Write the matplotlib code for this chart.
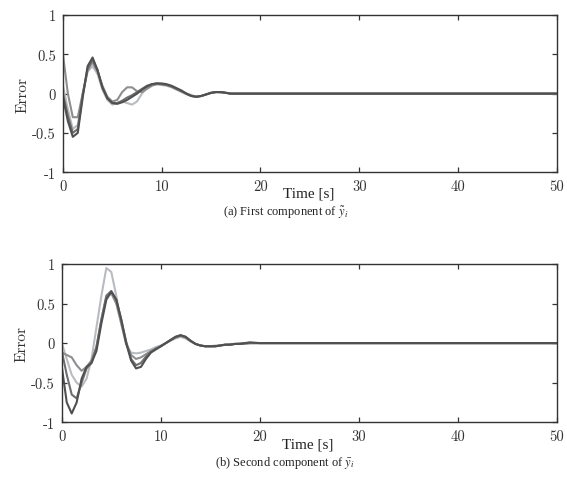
import matplotlib
matplotlib.use("Agg")
import matplotlib.pyplot as plt

# time samples (s): dense in the transient, sparse once everything is settled
time = [0.0, 0.5, 1.0, 1.5, 2.0, 2.5, 3.0, 3.5, 4.0, 4.5, 5.0, 5.5, 6.0, 6.5,
        7.0, 7.5, 8.0, 8.5, 9.0, 9.5, 10.0, 10.5, 11.0, 11.5, 12.0, 12.5, 13.0,
        13.5, 14.0, 14.5, 15.0, 15.5, 16.0, 16.5, 17.0, 17.5, 18.0, 19.0, 20.0,
        30.0, 50.0]

# (a) first component of the error, four runs
first_a = [-0.05, -0.35, -0.55, -0.50, -0.05, 0.35, 0.46, 0.30, 0.08, -0.06,
           -0.12, -0.13, -0.11, -0.08, -0.04, 0.00, 0.05, 0.09, 0.12, 0.13,
           0.13, 0.12, 0.10, 0.07, 0.04, 0.00, -0.03, -0.04, -0.03, -0.01,
           0.01, 0.02, 0.02, 0.01, 0.00, 0.00, 0.00, 0.00, 0.00, 0.00, 0.00]
first_b = [0.50, 0.00, -0.30, -0.30, 0.00, 0.30, 0.40, 0.28, 0.10, -0.04,
           -0.10, -0.08, 0.02, 0.08, 0.08, 0.03, 0.02, 0.06, 0.10, 0.12,
           0.12, 0.11, 0.09, 0.06, 0.03, 0.00, -0.02, -0.04, -0.03, -0.01,
           0.01, 0.02, 0.02, 0.01, 0.00, 0.00, 0.00, 0.00, 0.00, 0.00, 0.00]
first_c = [0.10, -0.20, -0.45, -0.40, 0.00, 0.28, 0.35, 0.25, 0.05, -0.08,
           -0.14, -0.12, -0.10, -0.12, -0.14, -0.10, 0.00, 0.07, 0.11, 0.12,
           0.11, 0.10, 0.08, 0.05, 0.02, -0.01, -0.03, -0.04, -0.03, -0.01,
           0.01, 0.02, 0.01, 0.01, 0.00, 0.00, 0.00, 0.00, 0.00, 0.00, 0.00]
first_d = [0.00, -0.28, -0.50, -0.45, -0.02, 0.32, 0.43, 0.30, 0.07, -0.06,
           -0.12, -0.12, -0.09, -0.05, -0.02, 0.02, 0.06, 0.10, 0.12, 0.13,
           0.12, 0.11, 0.09, 0.06, 0.03, 0.00, -0.03, -0.04, -0.03, -0.01,
           0.01, 0.02, 0.02, 0.01, 0.00, 0.00, 0.00, 0.00, 0.00, 0.00, 0.00]

# (b) second component of the error, four runs
second_a = [-0.30, -0.75, -0.89, -0.75, -0.45, -0.30, -0.25, -0.10, 0.25, 0.55,
            0.65, 0.55, 0.30, 0.00, -0.22, -0.32, -0.30, -0.20, -0.12, -0.08,
            -0.04, 0.00, 0.04, 0.08, 0.10, 0.08, 0.03, -0.01, -0.03, -0.04,
            -0.04, -0.04, -0.03, -0.02, -0.02, -0.01, -0.01, 0.01, 0.00, 0.00, 0.00]
second_b = [-0.12, -0.15, -0.18, -0.28, -0.35, -0.30, -0.22, -0.05, 0.30, 0.58,
            0.63, 0.50, 0.25, 0.00, -0.15, -0.20, -0.18, -0.14, -0.10, -0.07,
            -0.04, 0.00, 0.04, 0.07, 0.09, 0.07, 0.03, -0.01, -0.03, -0.04,
            -0.04, -0.04, -0.03, -0.02, -0.02, -0.01, -0.01, 0.00, 0.00, 0.00, 0.00]
second_c = [0.00, -0.20, -0.40, -0.50, -0.55, -0.45, -0.20, 0.20, 0.60, 0.95,
            0.90, 0.60, 0.25, -0.02, -0.12, -0.13, -0.12, -0.10, -0.08, -0.05,
            -0.03, 0.00, 0.03, 0.06, 0.08, 0.06, 0.02, -0.01, -0.03, -0.04,
            -0.04, -0.03, -0.03, -0.02, -0.01, -0.01, 0.00, 0.00, 0.00, 0.00, 0.00]
second_d = [-0.10, -0.40, -0.65, -0.70, -0.50, -0.32, -0.25, -0.05, 0.30, 0.60,
            0.66, 0.55, 0.30, 0.02, -0.20, -0.28, -0.25, -0.17, -0.11, -0.07,
            -0.04, 0.00, 0.04, 0.08, 0.10, 0.08, 0.03, -0.01, -0.03, -0.04,
            -0.04, -0.04, -0.03, -0.02, -0.02, -0.01, -0.01, 0.00, 0.00, 0.00, 0.00]

x_ticks = [0, 10, 20, 30, 40, 50]
y_ticks = [-1, -0.5, 0, 0.5, 1]
y_tick_labels = ["-1", "-0.5", "0", "0.5", "1"]

plt.rcParams["mathtext.fontset"] = "stix"

fig = plt.figure(figsize=(5.67, 5.02), dpi=100)
ax_top = fig.add_axes([0.111, 0.655, 0.871, 0.313])
ax_bot = fig.add_axes([0.109, 0.157, 0.873, 0.315])

# light, medium, medium-dark, dark (dark drawn last, on top)
line_colors = ["#b8bcc0", "#8e8e8e", "#6e6e6e", "#505050"]
panels = [
    (ax_top, [first_c, first_b, first_d, first_a], "(a) First component of $\\tilde{y}_i$"),
    (ax_bot, [second_c, second_b, second_d, second_a], "(b) Second component of $\\bar{y}_i$"),
]

for ax, series, caption in panels:
    for ys, col in zip(series, line_colors):
        ax.plot(time, ys, color=col, lw=1.5)
    ax.set_xlim(0, 50)
    ax.set_ylim(-1, 1)
    ax.set_xticks(x_ticks)
    ax.set_yticks(y_ticks)
    ax.set_yticklabels(y_tick_labels)
    ax.tick_params(direction="in", top=True, right=True, length=3.5,
                   width=0.9, colors="#333333", labelsize=10.5, pad=5)
    for lab in ax.get_xticklabels() + ax.get_yticklabels():
        lab.set_family("cmr10")
    for sp in ax.spines.values():
        sp.set_color("#333333")
        sp.set_linewidth(1.0)
    ax.set_ylabel("Error", family="cmr10", fontsize=11, color="#333333", labelpad=2)
    # x label sits tight under the tick labels, caption below it
    ax.text(0.497, -0.135, "Time [s]", transform=ax.transAxes, ha="center",
            va="center", family="Liberation Serif", fontsize=11, color="#222222")
    ax.text(0.45, -0.25, caption, transform=ax.transAxes, ha="center",
            va="center", family="Liberation Serif", fontsize=9, color="#222222")

fig.savefig("out.png", dpi=100)
